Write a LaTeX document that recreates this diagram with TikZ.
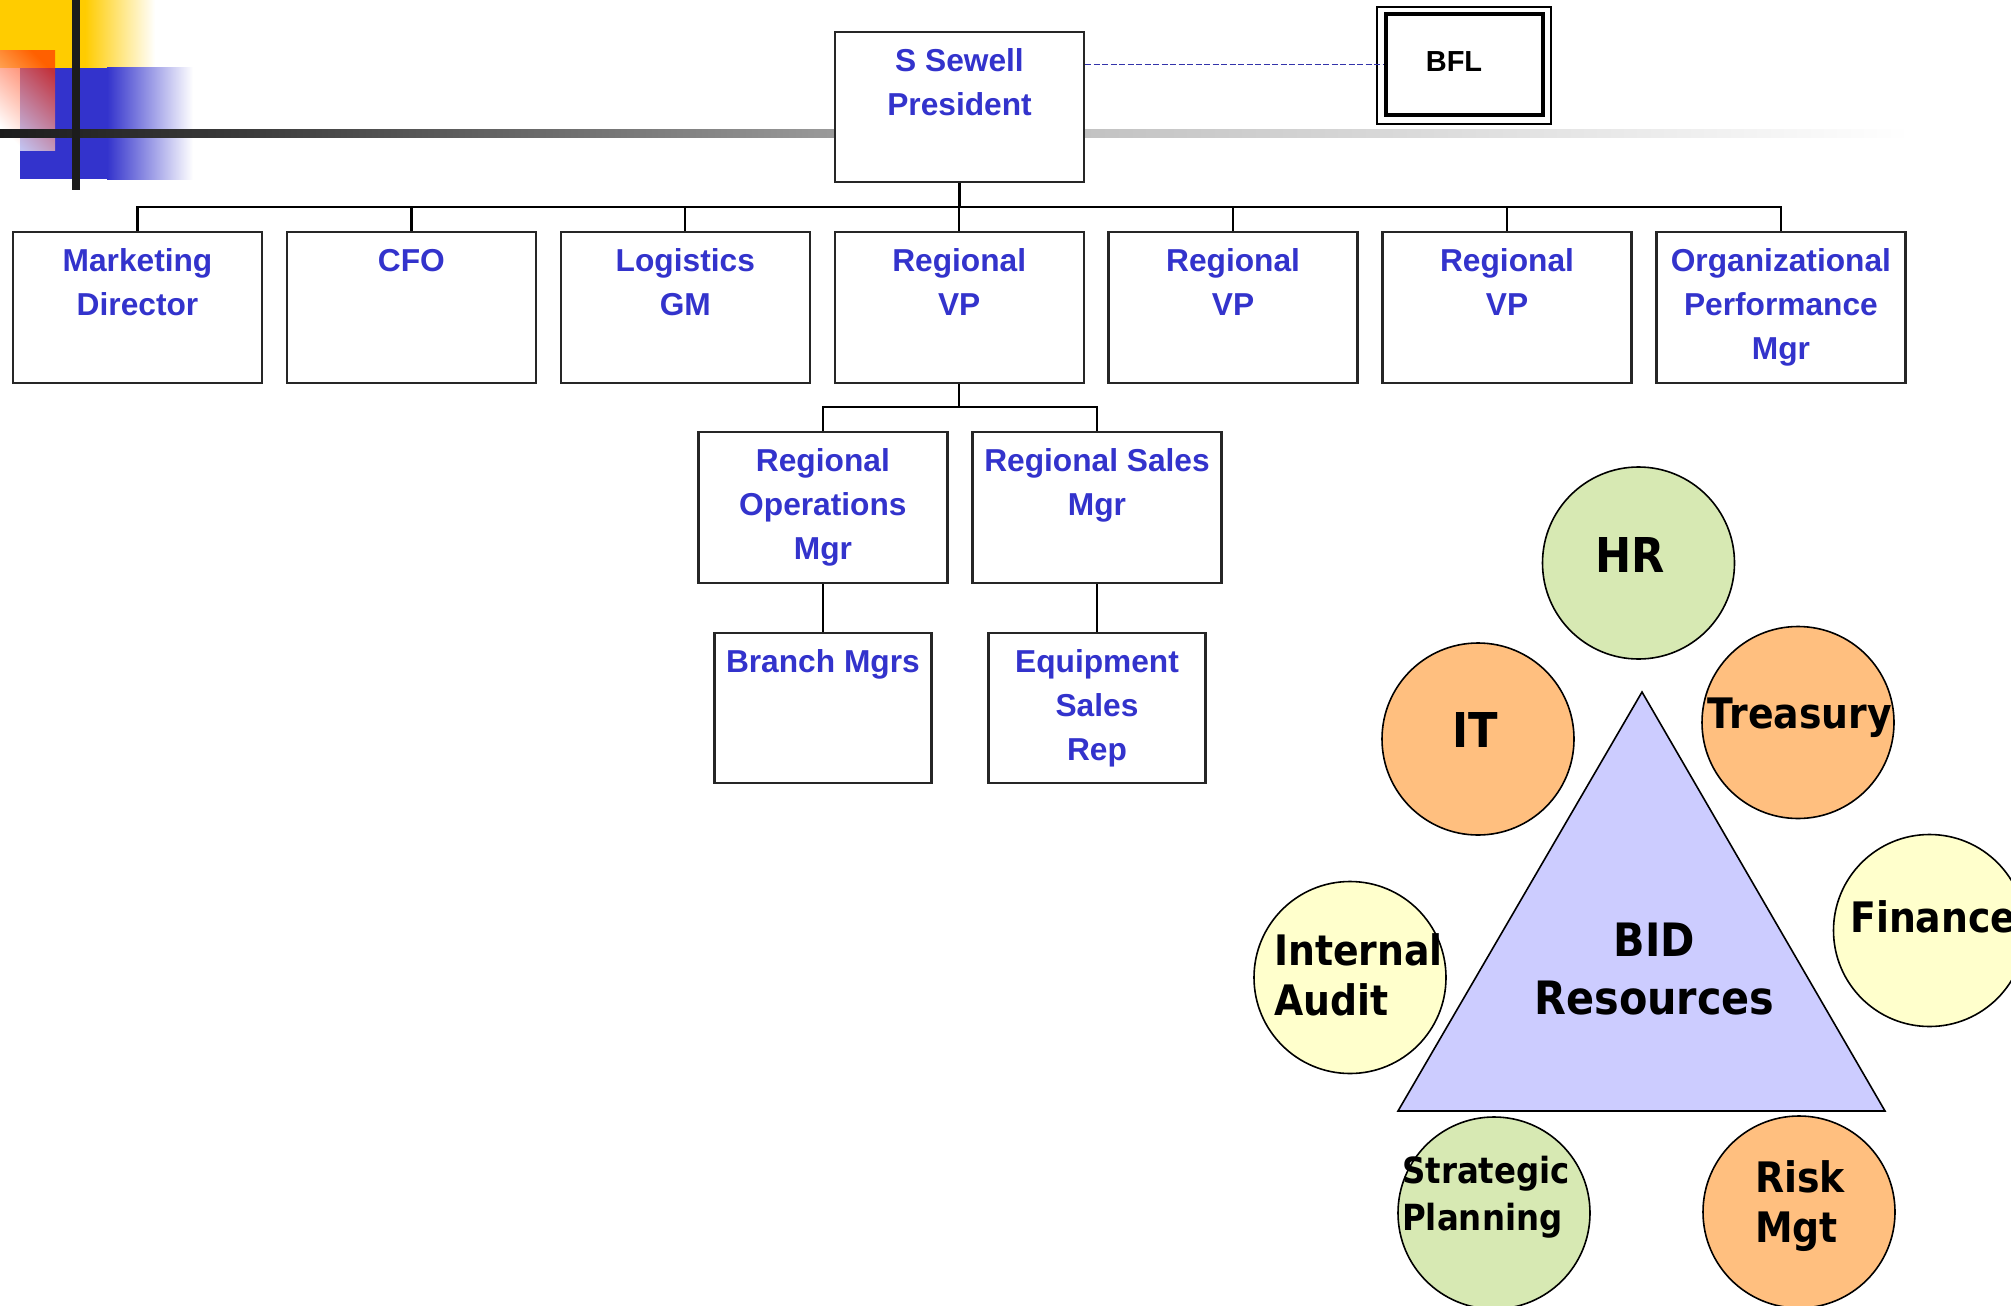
\documentclass[tikz,border=0pt]{standalone}
\usepackage{fontspec}
\setmainfont{Liberation Sans}
\newfontfamily\roundfont[FakeStretch=0.9]{DejaVu Sans}
\usetikzlibrary{calc}

\definecolor{orgblue}{HTML}{3333CC}
\definecolor{dashblue}{HTML}{3333AA}
\definecolor{pixyellow}{HTML}{FFCC00}
\definecolor{pixblue}{HTML}{3333CC}
\definecolor{pixred}{HTML}{FF3300}
\definecolor{boxline}{HTML}{262626}
\definecolor{bardark}{HTML}{1C1C1C}
\definecolor{barmid}{HTML}{3C3C3C}
\definecolor{bargrey}{HTML}{9A9A9A}
\definecolor{barlight}{HTML}{C2C2C2}
\definecolor{barpale}{HTML}{E4E4E4}
\definecolor{sage}{HTML}{D7E9B3}
\definecolor{apricot}{HTML}{FFBF7F}
\definecolor{cream}{HTML}{FFFFCC}
\definecolor{lavender}{HTML}{CCCCFF}

\begin{document}
\begin{tikzpicture}[x=1pt,y=-1pt,
  orgbox/.style={draw=boxline, line width=2.3pt, fill=white,
    minimum width=249pt, minimum height=151pt, inner sep=0pt},
  narrowbox/.style={orgbox, minimum width=217pt, minimum height=150.5pt},
  orgtext/.style={text=orgblue, font=\fontsize{31.7}{44}\selectfont\bfseries,
    align=center, anchor=base, inner sep=0pt},
  % the base anchor of a multi-line node sits on its last line
  oneline/.style={yshift=-40.7pt},
  twolines/.style={yshift=-84.7pt},
  threelines/.style={yshift=-128.7pt},
  link/.style={draw=black, line width=2.2pt},
  dashlink/.style={draw=dashblue, line width=1.8pt, dash pattern=on 6pt off 2.5pt},
  unit/.style={circle, draw=black, line width=1.6pt, minimum size=192pt, inner sep=0pt},
  unittext/.style={text=black, inner sep=0pt, align=left},
  big/.style={font=\roundfont\bfseries\fontsize{48}{58}\selectfont},
  mid/.style={font=\roundfont\bfseries\fontsize{42}{50.5}\selectfont},
  small/.style={font=\roundfont\bfseries\fontsize{36}{47}\selectfont},
]
\useasboundingbox (0,0) rectangle (2011,1306);
\clip (0,0) rectangle (2011,1306);

% corner ornament
\fill[pixyellow] (0,0) rectangle (85,68);
\shade[left color=pixyellow, right color=white] (85,0) rectangle (155,68);
\fill[pixblue] (20,68) rectangle (107,179);
\shade[left color=pixblue, right color=white] (107,68) rectangle (193,179);
\shade[top color=pixred, bottom color=white, shading angle=-45, opacity=0.7]
  (0,51) rectangle (55,150);

% rule across the top
\shade[left color=bardark, right color=barmid] (0,129) rectangle (250.5,137);
\shade[left color=barmid, right color=bargrey] (250,129) rectangle (835.5,137);
\shade[left color=bargrey, right color=barlight] (835,129) rectangle (1084.5,137);
\shade[left color=barlight, right color=barpale] (1084,129) rectangle (1550.5,137);
\shade[left color=barpale, right color=white] (1550,129) rectangle (1910,137);
\fill[bardark] (72,0) rectangle (80,190);

% org chart boxes
\node[orgbox, minimum height=150pt] (pres) at (959.5,107) {};
\node[orgbox] (mk)  at (137.5,307.5) {};
\node[orgbox] (cfo) at (411.4,307.5) {};
\node[orgbox] (lg)  at (685.3,307.5) {};
\node[orgbox] (rv1) at (959.2,307.5) {};
\node[orgbox] (rv2) at (1233.1,307.5) {};
\node[orgbox] (rv3) at (1507.0,307.5) {};
\node[orgbox] (opm) at (1780.9,307.5) {};
\node[orgbox] (rops)   at (822.9,507.7) {};
\node[orgbox] (rsales) at (1097,507.7) {};
\node[narrowbox] (branch) at (822.9,708) {};
\node[narrowbox] (equip)  at (1097,708) {};

\node[orgtext] (prest) at ([twolines, yshift=-0.3pt]pres.north) {S Sewell\\President};
\node[orgtext] (mkt)  at ([twolines]mk.north)  {Marketing\\Director};
\node[orgtext] (cfot) at ([oneline]cfo.north) {CFO};
\node[orgtext] (lgt)  at ([twolines]lg.north)  {Logistics\\GM};
\node[orgtext] (rv1t) at ([twolines]rv1.north) {Regional\\VP};
\node[orgtext] (rv2t) at ([twolines]rv2.north) {Regional\\VP};
\node[orgtext] (rv3t) at ([twolines]rv3.north) {Regional\\VP};
\node[orgtext] (opmt) at ([threelines]opm.north) {Organizational\\Performance\\Mgr};
\node[orgtext] (ropst)   at ([threelines]rops.north)   {Regional\\Operations\\Mgr};
\node[orgtext] (rsalest) at ([twolines]rsales.north) {Regional Sales\\Mgr};
\node[orgtext] (brancht) at ([oneline]branch.north) {Branch Mgrs};
\node[orgtext] (equipt)  at ([threelines]equip.north)  {Equipment\\Sales\\Rep};

% BFL box with double frame
\node[draw=black, line width=2.5pt, minimum width=174pt, minimum height=117pt,
  inner sep=0pt] (bflout) at (1464,65.5) {};
\node[draw=black, line width=3.5pt, minimum width=157pt, minimum height=101pt,
  inner sep=0pt] (bfl) at (1464.5,64.5) {};
\node[anchor=base, inner sep=0pt, font=\fontsize{29}{34}\selectfont\bfseries]
  (bflt) at (1454,71.7) {BFL};

% reporting lines
\coordinate (bus1) at (0,207);
\coordinate (bus2) at (0,407.3);
\draw[link] (pres.south) -- (pres.south |- bus1);
\draw[link] (mk.north) -- (mk.north |- bus1) -| (opm.north);
\foreach \n in {cfo,lg,rv1,rv2,rv3}
  \draw[link] (\n.north) -- (\n.north |- bus1);
\draw[link] (rv1.south) -- (rv1.south |- bus2);
\draw[link] (rops.north) -- (rops.north |- bus2) -| (rsales.north);
\draw[link] (rops.south) -- (branch.north);
\draw[link] (rsales.south) -- (equip.north);
\draw[dashlink] (pres.east |- bfl.west) -- (bfl.west);

% shared resources
\node[unit, fill=sage]     (hr)  at (1638.5,563) {};
\node[unit, fill=apricot]  (it)  at (1478,739) {};
\node[unit, fill=apricot]  (tr)  at (1798,722.5) {};
\node[unit, fill=cream]    (fin) at (1929.5,930.5) {};
\node[unit, fill=cream]    (ia)  at (1350,977.5) {};
\node[unit, fill=sage]     (sp)  at (1494,1213) {};
\node[unit, fill=apricot]  (rm)  at (1799,1212) {};

\coordinate (apex) at (1642,692);
\coordinate (baseR) at (1885,1111);
\coordinate (baseL) at (1398,1111);
\draw[fill=lavender, line width=1.6pt, line join=miter] (apex) -- (baseR) -- (baseL) -- cycle;

\node[unittext, big, anchor=base] (hrt) at (1630.5,572.7) {HR};
\node[unittext, big, anchor=base] (itt) at (1475.6,747.7) {IT};
\node[unittext, mid, anchor=base] (trt) at (1800,728.3) {Treasury};
\node[unittext, mid, anchor=base west] (fint) at (1850,932) {Finance};
\node[unittext, mid, anchor=base west] (iat) at (1274,1015.5) {Internal\\Audit};
\node[unittext, small, anchor=base west] (spt) at (1402,1230) {Strategic\\Planning};
\node[unittext, mid, anchor=base west] (rmt) at (1755,1242.5) {Risk\\Mgt};
\node[unittext, align=center, anchor=base,
  font=\roundfont\bfseries\fontsize{46}{58}\selectfont] (bid) at (1654.5,1014) {BID\\Resources};
\end{tikzpicture}
\end{document}
